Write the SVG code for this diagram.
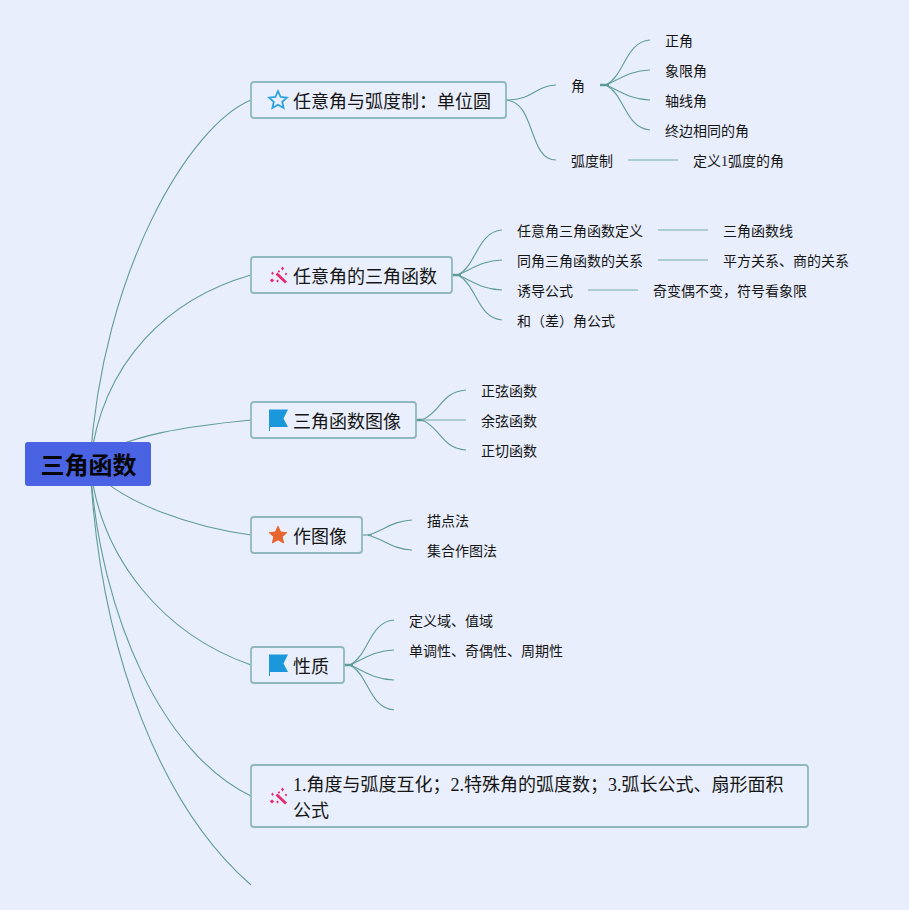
<svg xmlns="http://www.w3.org/2000/svg" xmlns:xlink="http://www.w3.org/1999/xlink" width="909" height="910" viewBox="0 0 909 910">
<style>
text{font-family:"Liberation Serif","Noto Sans CJK SC",serif;fill:#151515}
.leaf{font-size:14px}
.main{font-size:18px}
.root{font-size:24px;font-weight:700;fill:#050505;text-anchor:middle}
.box{fill:#e9effc;stroke:#8fb8bf;stroke-width:1.800}
.c{fill:none;stroke:#5f9c98;stroke-width:1.100}
.s{fill:none;stroke:#5f9c98;stroke-width:2.500}
.l{fill:none;stroke:#98c2c4;stroke-width:1.500}
</style>
<defs>
<path id="star" d="M0,-8.800 L2.600,-3 L8.900,-2.400 L4.200,1.800 L5.600,8 L0,4.800 L-5.600,8 L-4.200,1.800 L-8.900,-2.400 L-2.600,-3 Z"/>
<path id="flag" d="M-9.500,-10.500 H9.500 L5,-1.500 L9.500,7 H-8.500 V11 H-9.500 Z" fill="#1b97dc"/>
<g id="wand" fill="#e8286e"><path d="M-2.500,-2.500 L7,6.500" stroke="#e8286e" stroke-width="2.800" fill="none"/><path d="M3.500,-9.500 l1.500,2 l-1.500,2 l-1.500,-2z"/><path d="M-6.500,-4.500 l1.300,1.700 l-1.300,1.700 l-1.300,-1.700z"/><path d="M7,-3.500 l1.200,1.500 l-1.200,1.500 l-1.200,-1.500z"/><path d="M-7,2.500 l2.200,1.800 l-2.200,2.200 l-2.200,-2.200z"/><path d="M-1.500,3.500 l1.300,1.500 l-1.300,1.500 l-1.300,-1.500z"/><path d="M0,-6 l1.200,1.400 l-1.200,1.400 l-1.200,-1.400z"/></g>
</defs>
<rect width="909" height="910" fill="#e8eefc"/>
<g id="connectors">
<path class="c" d="M90,464 C102,270 190,125 251,100"/>
<path class="c" d="M90,464 C102,360 170,298 251,275"/>
<path class="c" d="M88,464 C118,434 200,425 251,420"/>
<path class="c" d="M88,464 C118,505 200,528 251,535"/>
<path class="c" d="M90,464 C100,560 165,635 251,665"/>
<path class="c" d="M90,464 C100,620 165,755 251,796"/>
<path class="c" d="M90,464 C100,660 165,810 251,885"/>
<path class="c" d="M506,100 C534,100 534,86 556,85"/>
<path class="c" d="M506,100 C536,102 528,160 556,160"/>
<path class="s" d="M600,85 H609"/>
<path class="c" d="M606,85 C625,75 625,42 650,40"/>
<path class="c" d="M606,85 C622,78 630,71 650,70"/>
<path class="c" d="M606,85 C622,92 630,99 650,100"/>
<path class="c" d="M606,85 C625,95 625,128 650,130"/>
<path class="l" d="M628,160 H678"/>
<path class="s" d="M452,275 H461"/>
<path class="c" d="M458,275 C477,265 477,232 502,230"/>
<path class="c" d="M458,275 C474,268 482,261 502,260"/>
<path class="c" d="M458,275 C474,282 482,289 502,290"/>
<path class="c" d="M458,275 C477,285 477,318 502,320"/>
<path class="l" d="M658,230 H708"/>
<path class="l" d="M658,260 H708"/>
<path class="l" d="M588,290 H638"/>
<path class="s" d="M416,420 H424"/>
<path class="c" d="M422,420 C441,412 441,392 466,390"/>
<path class="l" d="M422,420 H466"/>
<path class="c" d="M422,420 C441,428 441,448 466,450"/>
<path class="c" d="M362,535 H372"/>
<path class="c" d="M368,535 C385,530 392,521 412,520"/>
<path class="c" d="M368,535 C385,540 392,549 412,550"/>
<path class="s" d="M344,665 H353"/>
<path class="c" d="M350,665 C369,655 369,622 394,620"/>
<path class="c" d="M350,665 C366,658 374,651 394,650"/>
<path class="c" d="M350,665 C366,672 374,679 394,680"/>
<path class="c" d="M350,665 C369,675 369,708 394,710"/>
</g>
<g id="root"><rect x="25" y="442" width="126" height="44" rx="3" fill="#4a63e3"/><text class="root" x="88.500" y="474">三角函数</text></g>
<g id="n1"><rect class="box" x="251" y="82" width="255" height="36" rx="3"/><use xlink:href="#star" x="278" y="100" fill="none" stroke="#2ea3e2" stroke-width="1.800"/><text class="main" x="293" y="108">任意角与弧度制：单位圆</text></g>
<g id="n2"><rect class="box" x="251" y="257" width="201" height="36" rx="3"/><use xlink:href="#wand" x="279" y="276"/><text class="main" x="293" y="283">任意角的三角函数</text></g>
<g id="n3"><rect class="box" x="251" y="402" width="165" height="36" rx="3"/><use xlink:href="#flag" x="278.500" y="420"/><text class="main" x="293" y="428">三角函数图像</text></g>
<g id="n4"><rect class="box" x="251" y="517" width="111" height="36" rx="3"/><use xlink:href="#star" x="278" y="535" fill="#e8652f" stroke="#e8652f" stroke-width="1"/><text class="main" x="293" y="543">作图像</text></g>
<g id="n5"><rect class="box" x="251" y="647" width="93" height="36" rx="3"/><use xlink:href="#flag" x="278.500" y="665"/><text class="main" x="293" y="673">性质</text></g>
<g id="n6"><rect class="box" x="251" y="765" width="557" height="62" rx="3"/><use xlink:href="#wand" x="279" y="797"/><text class="main" x="293" y="791">1.角度与弧度互化；2.特殊角的弧度数；3.弧长公式、扇形面积</text><text class="main" x="293" y="817">公式</text></g>
<g id="l1"><text class="leaf" x="571" y="91">角</text></g>
<g id="l2"><text class="leaf" x="665" y="46">正角</text></g>
<g id="l3"><text class="leaf" x="665" y="76">象限角</text></g>
<g id="l4"><text class="leaf" x="665" y="106">轴线角</text></g>
<g id="l5"><text class="leaf" x="665" y="136">终边相同的角</text></g>
<g id="l6"><text class="leaf" x="571" y="166">弧度制</text></g>
<g id="l7"><text class="leaf" x="693" y="166">定义1弧度的角</text></g>
<g id="l8"><text class="leaf" x="517" y="236">任意角三角函数定义</text></g>
<g id="l9"><text class="leaf" x="723" y="236">三角函数线</text></g>
<g id="l10"><text class="leaf" x="517" y="266">同角三角函数的关系</text></g>
<g id="l11"><text class="leaf" x="723" y="266">平方关系、商的关系</text></g>
<g id="l12"><text class="leaf" x="517" y="296">诱导公式</text></g>
<g id="l13"><text class="leaf" x="653" y="296">奇变偶不变，符号看象限</text></g>
<g id="l14"><text class="leaf" x="517" y="326">和（差）角公式</text></g>
<g id="l15"><text class="leaf" x="481" y="396">正弦函数</text></g>
<g id="l16"><text class="leaf" x="481" y="426">余弦函数</text></g>
<g id="l17"><text class="leaf" x="481" y="456">正切函数</text></g>
<g id="l18"><text class="leaf" x="427" y="526">描点法</text></g>
<g id="l19"><text class="leaf" x="427" y="556">集合作图法</text></g>
<g id="l20"><text class="leaf" x="409" y="626">定义域、值域</text></g>
<g id="l21"><text class="leaf" x="409" y="656">单调性、奇偶性、周期性</text></g>
</svg>
